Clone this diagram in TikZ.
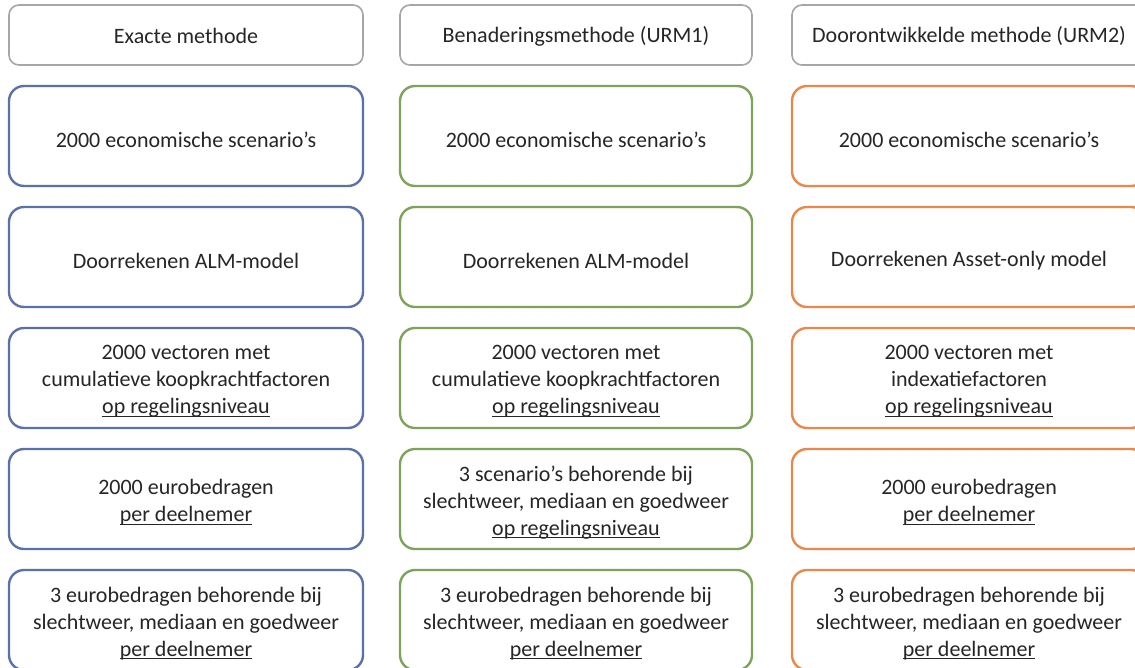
\documentclass[tikz,border=0pt]{standalone}
\usepackage{fontspec}
\setmainfont{Carlito}
\definecolor{bbl}{HTML}{5A72A8}
\definecolor{bgr}{HTML}{7EA35A}
\definecolor{bor}{HTML}{E8884A}
\definecolor{hdr}{HTML}{A6A6A6}
\definecolor{txt}{HTML}{262626}
\newcommand{\uln}[1]{\setbox0\hbox{#1}\rlap{\rule[-3pt]{\wd0}{1.2pt}}\box0}
\tikzset{
  basebox/.style={rounded corners=15pt, fill=white, inner sep=0pt},
  celltext/.style={align=center, text=txt, inner sep=0pt,
    font=\fontsize{22}{27}\selectfont},
  hdrbox/.style={basebox, draw=hdr, line width=1.6pt, rounded corners=10pt,
    minimum height=60pt},
  bluebox/.style={basebox, draw=bbl, line width=2.4pt, minimum height=100pt},
  greenbox/.style={basebox, draw=bgr, line width=2.4pt, minimum height=100pt},
  orangebox/.style={basebox, draw=bor, line width=2.4pt, minimum height=100pt},
  colL/.style={minimum width=354pt},
  colM/.style={minimum width=352pt},
  colR/.style={minimum width=354pt}
}
% \cell{name}{box style}{x}{y}{text}
\newcommand{\cell}[5]{%
  \node[#2] (#1) at (#3,#4) {};
  \node[celltext] (#1t) at ([yshift=-3.5pt]#1.center) {#5};}
\begin{document}
\begin{tikzpicture}[x=1pt,y=-1pt]
\useasboundingbox (0,0) rectangle (1135,667);
\clip (0,0) rectangle (1135,667);
% headers
\node[hdrbox,colL] (h1) at (186,35) {};
\node[celltext] (h1t) at ([yshift=-1pt]h1.center) {Exacte methode};
\node[hdrbox,colM] (h2) at (576,35) {};
\node[celltext] (h2t) at ([yshift=-1pt]h2.center) {Benaderingsmethode (URM1)};
\node[hdrbox,colR] (h3) at (969,35) {};
\node[celltext] (h3t) at ([yshift=-1pt]h3.center) {Doorontwikkelde methode (URM2)};
% row 2
\cell{a1}{bluebox,colL}{186}{136}{2000 economische scenario’s}
\cell{b1}{greenbox,colM}{576}{136}{2000 economische scenario’s}
\cell{c1}{orangebox,colR}{969}{136}{2000 economische scenario’s}
% row 3
\cell{a2}{bluebox,colL}{186}{257}{Doorrekenen ALM-model}
\cell{b2}{greenbox,colM}{576}{257}{Doorrekenen ALM-model}
\cell{c2}{orangebox,colR}{969}{257}{Doorrekenen Asset-only model}
% row 4
\cell{a3}{bluebox,colL}{186}{378}{2000 vectoren met\\cumulatieve koopkrachtfactoren\\\uln{op regelingsniveau}}
\cell{b3}{greenbox,colM}{576}{378}{2000 vectoren met\\cumulatieve koopkrachtfactoren\\\uln{op regelingsniveau}}
\cell{c3}{orangebox,colR}{969}{378}{2000 vectoren met\\indexatiefactoren\\\uln{op regelingsniveau}}
% row 5
\cell{a4}{bluebox,colL}{186}{499}{2000 eurobedragen\\\uln{per deelnemer}}
\cell{b4}{greenbox,colM}{576}{499}{3 scenario’s behorende bij\\slechtweer, mediaan en goedweer\\\uln{op regelingsniveau}}
\cell{c4}{orangebox,colR}{969}{499}{2000 eurobedragen\\\uln{per deelnemer}}
% row 6
\cell{a5}{bluebox,colL}{186}{620}{3 eurobedragen behorende bij\\slechtweer, mediaan en goedweer\\\uln{per deelnemer}}
\cell{b5}{greenbox,colM}{576}{620}{3 eurobedragen behorende bij\\slechtweer, mediaan en goedweer\\\uln{per deelnemer}}
\cell{c5}{orangebox,colR}{969}{620}{3 eurobedragen behorende bij\\slechtweer, mediaan en goedweer\\\uln{per deelnemer}}
\end{tikzpicture}
\end{document}
